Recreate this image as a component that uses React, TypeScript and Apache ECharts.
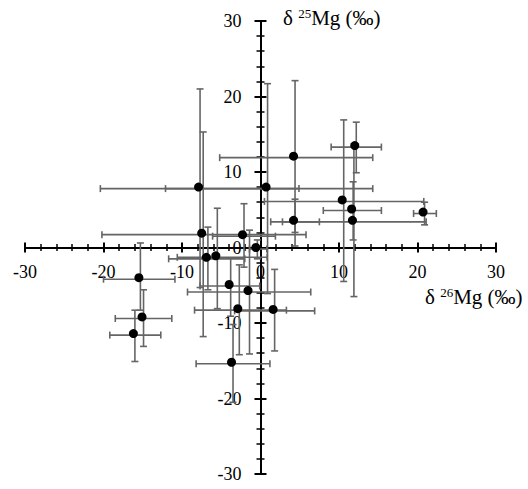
import React, { useEffect, useRef } from "react";
import * as echarts from "echarts";

// Data (bar crossing = value, with low/high error limits)
const xVal = [12.2, 4.4, 0.9, -7.7, -7.3, -2.1, 10.6, 11.8, 11.9, 20.9, 4.4, -0.4, -6.7, -5.5, -3.8, -1.4, -2.7, 1.8, -3.5, -15.3, -14.9, -16.0];
const yVal = [13.3, 11.9, 7.8, 7.8, 1.7, 1.5, 6.1, 4.9, 3.4, 4.5, 3.4, -0.2, -1.5, -1.3, -5.1, -5.9, -8.3, -8.4, -15.4, -4.2, -9.4, -11.6];
const xLow = [9.0, -5.2, -12.1, -20.4, -20.2, -6.1, 0.5, 8.0, 2.8, 19.5, 1.3, -1.4, -11.7, -10.6, -7.7, -9.3, -8.4, -3.3, -8.2, -20.0, -18.5, -19.2];
const xHigh = [15.4, 14.3, 14.3, 4.9, 5.8, 1.9, 20.8, 15.4, 21.1, 22.4, 7.5, 0.8, -2.0, 0.85, -0.1, 6.4, 3.3, 6.9, 1.2, -10.9, -11.3, -12.7];
const yLow = [9.9, 2.0, -6.1, -5.3, -11.8, -2.6, -4.5, 1.0, -6.5, 3.0, 0.2, -1.5, -5.6, -8.1, -9.1, -14.1, -14.2, -13.7, -20.5, -8.3, -13.1, -15.1];
const yHigh = [16.6, 22.1, 21.7, 21.0, 15.3, 5.8, 16.9, 8.7, 13.3, 6.0, 6.4, 1.0, 2.7, 5.2, -1.4, 2.3, -2.3, -2.9, -10.2, 0.6, -5.6, -8.3];

const axisMin = -30;
const axisMax = 30;
const axisStep = 10;

const FONT = "'Liberation Serif', 'DejaVu Serif', serif";

const W = 528;
const H = 489;
const GRID = { left: 25, right: 32, top: 21, bottom: 15 };

export default function App() {
  const ref = useRef<HTMLDivElement>(null);

  useEffect(() => {
    if (!ref.current) return;
    const chart = echarts.init(ref.current, null, { renderer: "svg" });

    const points = xVal.map((x, i) => [x, yVal[i]]);
    const bars = xVal.map((x, i) => [x, yVal[i], xLow[i], xHigh[i], yLow[i], yHigh[i]]);

    const gw = W - GRID.left - GRID.right;
    const gh = H - GRID.top - GRID.bottom;
    const frac = (0 - axisMin) / (axisMax - axisMin);

    const makeAxis = (dir: "x" | "y", inside: boolean, labels: boolean) => ({
      type: "value",
      min: axisMin,
      max: axisMax,
      interval: axisStep,
      position: dir === "x" ? "bottom" : "left",
      offset: dir === "x" ? -gh * frac : -gw * frac,
      axisLine: { show: true, onZero: false, lineStyle: { color: "#000", width: 2 } },
      axisTick: { show: true, inside, length: dir === "x" ? 5 : 6, lineStyle: { color: "#000", width: 2 } },
      minorTick: { show: true, splitNumber: 5, length: dir === "x" ? 3.5 : 4, lineStyle: { color: "#000", width: 1.5 } },
      splitLine: { show: false },
      minorSplitLine: { show: false },
      axisLabel: {
        show: labels,
        color: "#000",
        fontFamily: FONT,
        fontSize: 18,
        margin: dir === "x" ? 15 : 19,
      },
    });

    const rich = {
      a: { fontFamily: FONT, fontSize: 21, fill: "#000" },
      b: { fontFamily: FONT, fontSize: 13, fill: "#000", padding: [0, 0, 9, 0] },
    };

    const option: any = {
      animation: false,
      backgroundColor: "#fff",
      grid: { ...GRID, containLabel: false, outerBoundsMode: "none" },
      xAxis: [makeAxis("x", true, true), makeAxis("x", false, false)],
      yAxis: [makeAxis("y", true, true), makeAxis("y", false, false)],
      graphic: [
        {
          type: "text",
          left: 283,
          top: 7,
          style: { text: "{a|δ }{b|25}{a|Mg (‰)}", rich },
        },
        {
          type: "text",
          left: 425,
          top: 286,
          style: { text: "{a|δ }{b|26}{a|Mg (‰)}", rich },
        },
      ],
      series: [
        {
          type: "custom",
          xAxisIndex: 0,
          yAxisIndex: 0,
          z: 2,
          data: bars,
          encode: { x: [0, 2, 3], y: [1, 4, 5] },
          renderItem: (params: any, api: any) => {
            const x = api.value(0);
            const y = api.value(1);
            const pL = api.coord([api.value(2), y]);
            const pR = api.coord([api.value(3), y]);
            const pB = api.coord([x, api.value(4)]);
            const pT = api.coord([x, api.value(5)]);
            const c = 3.5;
            const style = { stroke: "#656565", lineWidth: 1.6 };
            const ln = (x1: number, y1: number, x2: number, y2: number) => ({
              type: "line",
              shape: { x1, y1, x2, y2 },
              style,
            });
            return {
              type: "group",
              children: [
                ln(pL[0], pL[1], pR[0], pR[1]),
                ln(pL[0], pL[1] - c, pL[0], pL[1] + c),
                ln(pR[0], pR[1] - c, pR[0], pR[1] + c),
                ln(pB[0], pB[1], pT[0], pT[1]),
                ln(pB[0] - c, pB[1], pB[0] + c, pB[1]),
                ln(pT[0] - c, pT[1], pT[0] + c, pT[1]),
              ],
            };
          },
        },
        {
          type: "scatter",
          xAxisIndex: 0,
          yAxisIndex: 0,
          z: 3,
          symbol: "circle",
          symbolSize: 9,
          symbolOffset: [-1.5, -1.5],
          itemStyle: { color: "#000", opacity: 1 },
          data: points,
        },
      ],
    };

    chart.setOption(option);
    return () => chart.dispose();
  }, []);

  return (
    <div
      ref={ref}
      style={{ position: "fixed", left: 0, top: 0, width: W, height: H, background: "#fff" }}
    />
  );
}
